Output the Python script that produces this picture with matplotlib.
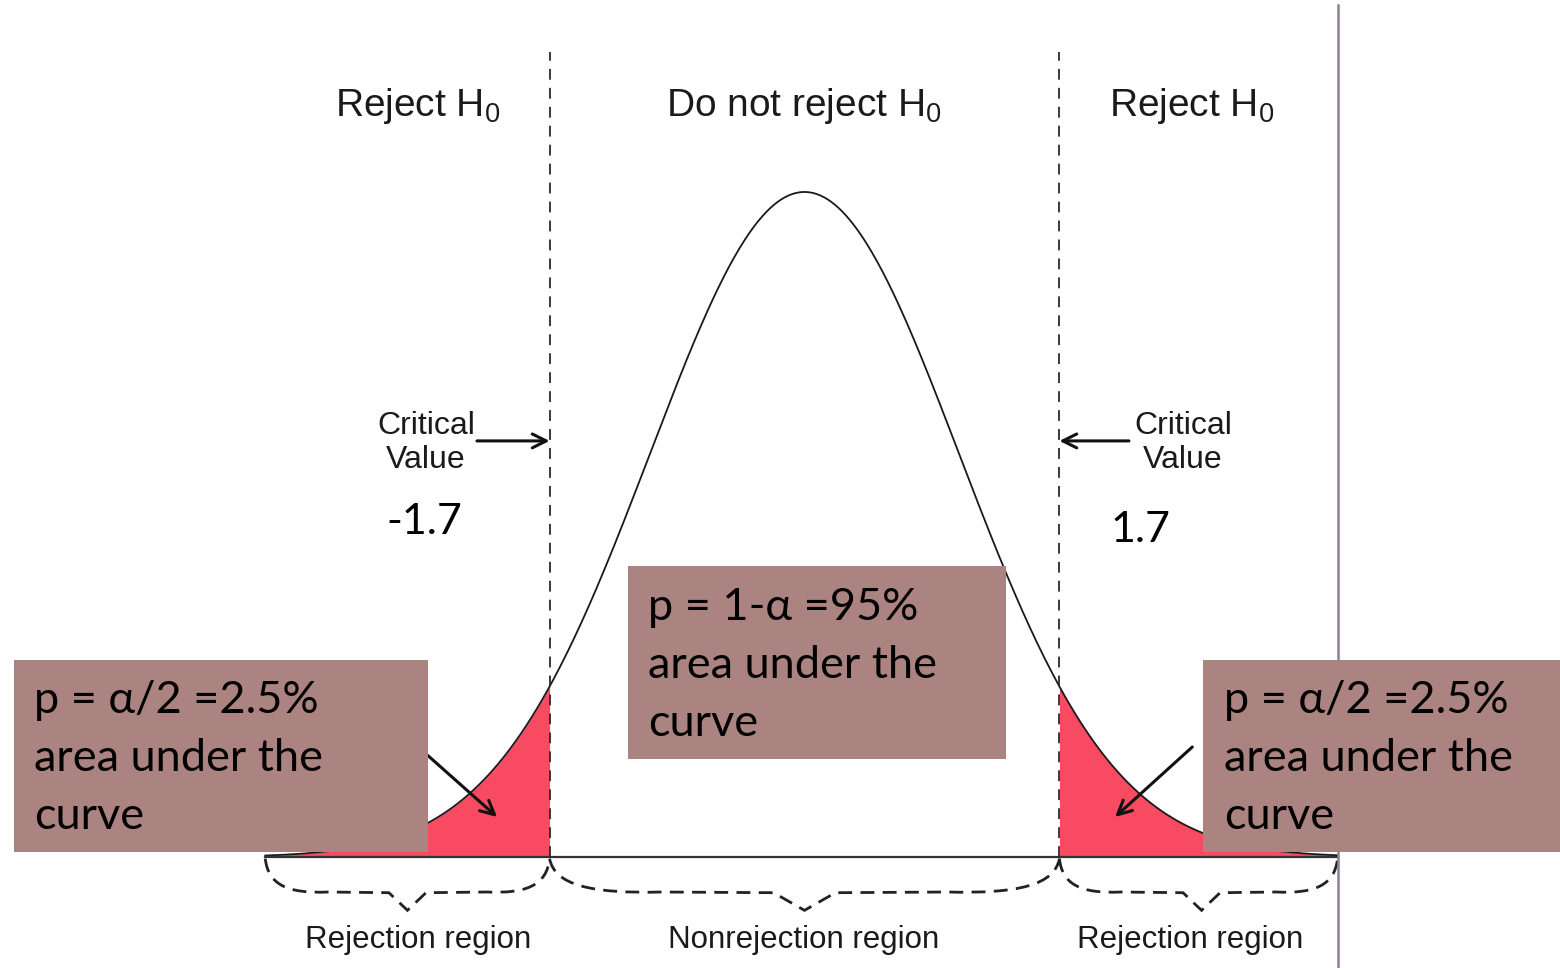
import numpy as np
import matplotlib
matplotlib.use('Agg')
from matplotlib import pyplot as plt
from matplotlib.path import Path
from matplotlib.patches import PathPatch, Rectangle

# diagram values (z units)
crit = 1.65
x_lo, x_hi = -3.49, 3.45
crit_labels = ['-1.7', '1.7']
region_labels = ['Rejection region', 'Nonrejection region', 'Rejection region']
top_labels = ['Reject H$\\mathregular{_0}$', 'Do not reject H$\\mathregular{_0}$',
              'Reject H$\\mathregular{_0}$']
tail_text = ['p = \u03b1/2 =2.5%', 'area under the', 'curve']
mid_text = ['p = 1-\u03b1 =95%', 'area under the', 'curve']

W, H = 1560, 968
RED = '#F84B61'
BOX = '#AB8380'
SANS = ['Liberation Sans', 'DejaVu Sans']
BODY = ['Lato', 'Open Sans', 'DejaVu Sans']


def pdf(z):
    return np.exp(-z ** 2 / 2) / np.sqrt(2 * np.pi)


def fx(px):
    return px / W


def fy(py):
    return 1 - py / H


def brace(ax, x0, x1, xm, tip):
    w = x1 - x0
    yb, yd, yt = -0.001, -0.021, -0.032
    verts = [(x0, yb), (x0 + 0.01 * w, yd * 0.8), (x0 + 0.08 * w, yd * 1.05),
             (x0 + 0.22 * w, yd),
             (xm - tip, yd * 1.02), (xm, yt),
             (xm + tip, yd * 1.02), (x1 - 0.22 * w, yd),
             (x1 - 0.08 * w, yd * 1.05), (x1 - 0.01 * w, yd * 0.8), (x1, yb)]
    codes = [Path.MOVETO, Path.CURVE4, Path.CURVE4, Path.CURVE4,
             Path.LINETO, Path.LINETO, Path.LINETO, Path.LINETO,
             Path.CURVE4, Path.CURVE4, Path.CURVE4]
    ax.add_patch(PathPatch(Path(verts, codes), fill=False, ec='#222222',
                           lw=2.0, ls=(0, (5, 3)), capstyle='butt'))


fig = plt.figure(figsize=(15.6, 9.68), dpi=100)
ax = fig.add_axes([0, 0, 1, 1])
ax.set_xlim(-804.5 / 154.5, (W - 804.5) / 154.5)
ax.set_ylim(-111 / 1667, 857 / 1667)
ax.axis('off')

z = np.linspace(x_lo, x_hi, 600)
ax.plot(z, pdf(z), color='#1a1a1a', lw=1.3, zorder=3)
ax.plot([x_lo, x_hi], [0, 0], color='#333333', lw=1.6, zorder=3)

zl = np.linspace(x_lo, -crit, 200)
zr = np.linspace(crit, x_hi, 200)
ax.fill_between(zl, 0, pdf(zl), color=RED, lw=0, zorder=2)
ax.fill_between(zr, 0, pdf(zr), color=RED, lw=0, zorder=2)

for c in (-crit, crit):
    ax.plot([c, c], [0, 805 / 1667], color='#2a2a2a', lw=1.3,
            ls=(0, (6, 4.5)), zorder=3)

ax.axvline(x_hi, ymin=0, ymax=fy(5), color='#8B7F9A', lw=1.8, zorder=4)

# critical value arrows
arrow_kw = dict(arrowstyle='->,head_length=1.0,head_width=0.5', lw=2.2,
                color='#111111', shrinkA=0, shrinkB=0)
ax.annotate('', xy=(-crit, 0.2496), xytext=(-2.12, 0.2496),
            arrowprops=arrow_kw, zorder=5)
ax.annotate('', xy=(crit, 0.2496), xytext=(2.10, 0.2496),
            arrowprops=arrow_kw, zorder=5)

# arrows from boxes into tails
ax.annotate('', xy=(-1.99, 0.024), xytext=(-2.50, 0.066),
            arrowprops=arrow_kw, zorder=5)
ax.annotate('', xy=(2.01, 0.024), xytext=(2.51, 0.066),
            arrowprops=arrow_kw, zorder=5)

# braces
brace(ax, x_lo, -crit, -2.57, 0.12)
brace(ax, -crit, crit, 0, 0.2)
brace(ax, crit, x_hi, 2.57, 0.12)

# texts
for px, lab in zip([418, 804, 1192], top_labels):
    ax.text(fx(px), fy(106), lab, transform=ax.transAxes, ha='center',
            va='center', fontsize=28, family=SANS, color='#1a1a1a')
for px, lab in zip([418, 804, 1190], region_labels):
    ax.text(fx(px), fy(940), lab, transform=ax.transAxes, ha='center',
            va='center', fontsize=22.5, family=SANS, color='#1a1a1a')
for px in (426, 1183):
    ax.text(fx(px), fy(443), 'Critical\nValue', transform=ax.transAxes,
            ha='center', va='center', fontsize=23, family=SANS,
            color='#1a1a1a', linespacing=1.15)
ax.text(fx(424), fy(522), crit_labels[0], transform=ax.transAxes,
        ha='center', va='center', fontsize=31, family=BODY, color='black')
ax.text(fx(1140), fy(530), crit_labels[1], transform=ax.transAxes,
        ha='center', va='center', fontsize=31, family=BODY, color='black')

# boxes
boxes = [(14, 660, 428, 852, tail_text, 34, 713),
         (628, 566, 1006, 759, mid_text, 648, 620),
         (1203, 660, 1560, 852, tail_text, 1224, 713)]
for x0, y0, x1, y1, lines, tx, ty in boxes:
    ax.add_patch(Rectangle((fx(x0), fy(y1)), fx(x1) - fx(x0), fy(y0) - fy(y1),
                           transform=ax.transAxes, fc=BOX, ec='none', zorder=6))
    for i, line in enumerate(lines):
        ax.text(fx(tx), fy(ty + 58 * i), line, transform=ax.transAxes,
                ha='left', va='baseline', fontsize=32.5, family=BODY,
                color='black', zorder=7)

fig.savefig('out.png', dpi=100)
